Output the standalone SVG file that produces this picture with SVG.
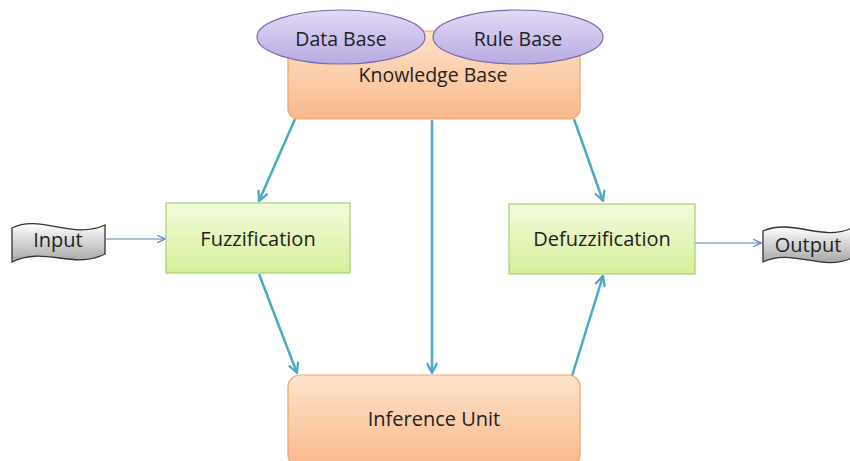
<svg xmlns="http://www.w3.org/2000/svg" width="850" height="461" viewBox="0 0 850 461">
<defs>
<linearGradient id="gOrange" x1="0" y1="0" x2="0" y2="1"><stop offset="0" stop-color="#fde3cb"/><stop offset="1" stop-color="#f9b98a"/></linearGradient>
<linearGradient id="gGreen" x1="0" y1="0" x2="0" y2="1"><stop offset="0" stop-color="#f3fbdb"/><stop offset="1" stop-color="#d5f09c"/></linearGradient>
<linearGradient id="gPurple" x1="0" y1="0" x2="0" y2="1"><stop offset="0" stop-color="#e2dbf5"/><stop offset="1" stop-color="#b9aae2"/></linearGradient>
<linearGradient id="gGrey" x1="0" y1="0" x2="0" y2="1"><stop offset="0" stop-color="#ffffff"/><stop offset="1" stop-color="#a6a6a6"/></linearGradient>
<marker id="mTeal" viewBox="0 0 10 10" refX="9" refY="5" markerWidth="5" markerHeight="5" orient="auto" markerUnits="strokeWidth"><path d="M1,1 L9,5 L1,9" fill="none" stroke="#4aa9c4" stroke-width="1.8"/></marker>
<marker id="mBlue" viewBox="0 0 10 10" refX="9" refY="5" markerWidth="8" markerHeight="8" orient="auto" markerUnits="strokeWidth"><path d="M1,1 L9,5 L1,9" fill="none" stroke="#4f81bd" stroke-width="1.2"/></marker>
</defs>
<style>
.txt{font-family:"Open Sans","Liberation Sans",sans-serif;fill:#222;text-anchor:middle;dominant-baseline:central}
.orange{fill:url(#gOrange);stroke:#f2a56a;stroke-width:1.2}
.green{fill:url(#gGreen);stroke:#a9cf6f;stroke-width:1.2}
.purple{fill:url(#gPurple);stroke:#7b6cae;stroke-width:1.2}
.tape{fill:url(#gGrey);stroke:#333;stroke-width:1.3}
.teal{stroke:#4aa9c4;stroke-width:2.5;fill:none;marker-end:url(#mTeal)}
.thin{stroke:#4f81bd;stroke-width:1.2;fill:none;marker-end:url(#mBlue)}
</style>
<rect width="850" height="461" fill="#ffffff"/>
<g id="connectors">
<line class="teal" x1="295" y1="119" x2="259" y2="201"/>
<line class="teal" x1="432" y1="120" x2="432" y2="373"/>
<line class="teal" x1="574" y1="119" x2="603" y2="201"/>
<line class="teal" x1="259" y1="274" x2="297" y2="373"/>
<line class="teal" x1="572" y1="376" x2="603" y2="276"/>
<line class="thin" x1="106" y1="239" x2="165" y2="239"/>
<line class="thin" x1="695" y1="243" x2="761" y2="243"/>
</g>
<g id="knowledge-base">
<rect class="orange" x="288" y="31" width="292" height="88" rx="10"/>
<text class="txt" x="433" y="74" font-size="19.5">Knowledge Base</text>
</g>
<g id="data-base">
<ellipse class="purple" cx="341" cy="37" rx="84" ry="27"/>
<text class="txt" x="341" y="38" font-size="19.5">Data Base</text>
</g>
<g id="rule-base">
<ellipse class="purple" cx="518" cy="37" rx="85" ry="27"/>
<text class="txt" x="518" y="38" font-size="19.5">Rule Base</text>
</g>
<g id="fuzzification">
<rect class="green" x="166" y="203" width="184" height="70"/>
<text class="txt" x="258" y="238" font-size="20">Fuzzification</text>
</g>
<g id="defuzzification">
<rect class="green" x="509" y="204" width="186" height="70"/>
<text class="txt" x="602" y="238" font-size="20">Defuzzification</text>
</g>
<g id="inference-unit">
<rect class="orange" x="288" y="375" width="292" height="92" rx="12"/>
<text class="txt" x="434" y="418" font-size="20">Inference Unit</text>
</g>
<g id="input">
<path class="tape" d="M12,228 C40,214 72,240 105,225 L105,254 C74,270 44,246 12,262 Z"/>
<text class="txt" x="58" y="239" font-size="20">Input</text>
</g>
<g id="output">
<path class="tape" d="M763,231 C792,218 822,242 852,228 L852,258 C822,272 792,248 763,262 Z"/>
<text class="txt" x="808" y="244" font-size="20">Output</text>
</g>
</svg>
